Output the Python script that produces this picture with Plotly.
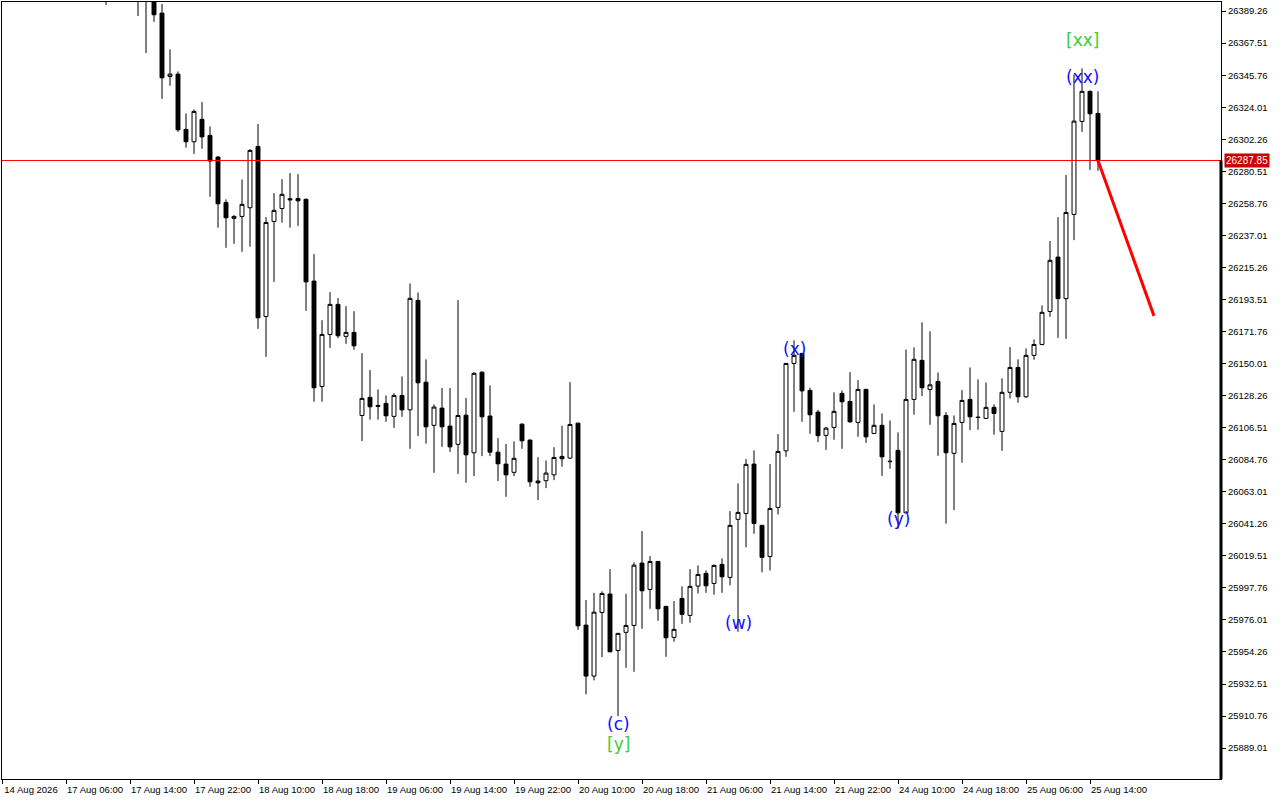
import plotly.graph_objects as go

# ---- data (bar index = hourly bar position from the left edge) ----
bar_idx = [13, 17, 18, 19] + list(range(20, 138))

open_ = [26410, 26415, 26412, 26400,
         26387.9, 26344.9, 26346.5, 26309.0, 26300.6, 26315.8, 26304.9, 26290.2, 26259.4, 26248.6,
         26249.9, 26255.8, 26297.4, 26182.0, 26246.5, 26255.3, 26261.9, 26262.1, 26261.5, 26206.0,
         26134.5, 26169.8, 26190.2, 26168.5, 26171.2, 26114.8, 26127.1, 26121.6, 26123.0, 26114.2,
         26128.4, 26118.6, 26192.9, 26137.4, 26108.1, 26119.8, 26107.6, 26095.2, 26115.0, 26089.5,
         26144.2, 26114.4, 26089.9, 26081.8, 26076.2, 26108.9, 26098.1, 26070.3, 26070.5, 26074.5,
         26087.0, 26085.9, 26109.6, 25972.5, 25937.9, 25981.1, 25993.6, 25955.3, 25967.6, 25972.3,
         26014.6, 25996.7, 26015.7, 25985.2, 25964.2, 25990.6, 25979.1, 25999.0, 26007.6, 26000.8,
         26013.7, 26004.9, 26044.3, 26048.3, 26081.8, 26040.2, 26019.1, 26052.4, 26090.8, 26150.1,
         26156.9, 26131.8, 26117.1, 26101.3, 26106.7, 26129.8, 26124.3, 26110.1, 26132.5, 26102.6,
         26108.1, 26083.8, 26091.1, 26048.7, 26125.7, 26152.2, 26132.5, 26137.9, 26114.8, 26089.1,
         26110.1, 26125.7, 26113.7, 26112.8, 26120.3, 26104.0, 26130.5, 26147.4, 26127.5, 26155.6,
         26163.0, 26185.4, 26222.3, 26194.1, 26251.3, 26314.4, 26334.8, 26319.8]

high = [26415, 26420, 26418, 26404,
        26394.2, 26363.3, 26348.3, 26319.8, 26322.5, 26327.5, 26311.0, 26290.8, 26261.5, 26250.8,
        26275.0, 26295.6, 26312.6, 26249.4, 26265.7, 26275.2, 26279.3, 26278.6, 26262.1, 26224.3,
        26179.5, 26198.5, 26194.5, 26189.0, 26185.6, 26157.1, 26145.6, 26132.5, 26128.4, 26129.8,
        26141.3, 26204.4, 26198.3, 26152.9, 26122.3, 26133.4, 26133.4, 26193.1, 26126.6, 26144.2,
        26144.7, 26135.2, 26099.4, 26095.4, 26097.2, 26109.5, 26098.6, 26086.5, 26084.3, 26093.3,
        26107.8, 26137.4, 26110.0, 25989.5, 25994.4, 25995.4, 26010.5, 25967.2, 25993.8, 26015.1,
        26036.3, 26019.3, 26016.2, 25985.6, 25988.8, 25998.8, 26010.5, 26013.0, 26009.6, 26013.7,
        26017.8, 26049.9, 26068.7, 26085.2, 26091.1, 26040.6, 26081.8, 26102.2, 26150.5, 26165.8,
        26157.3, 26133.6, 26118.6, 26107.1, 26130.5, 26131.8, 26144.2, 26138.8, 26132.9, 26122.3,
        26116.2, 26111.4, 26103.3, 26159.6, 26161.0, 26178.0, 26171.9, 26144.0, 26117.1, 26114.8,
        26132.0, 26147.4, 26139.3, 26137.2, 26122.3, 26140.0, 26161.2, 26152.9, 26160.3, 26166.4,
        26189.5, 26233.2, 26249.4, 26278.0, 26346.3, 26350.4, 26335.4, 26334.8]

low = [26393.5, 26385.9, 26360.8, 26382.0,
       26329.7, 26338.6, 26307.3, 26296.5, 26292.4, 26295.8, 26263.2, 26242.2, 26228.6, 26231.3,
       26225.9, 26229.3, 26173.6, 26154.6, 26205.5, 26245.6, 26242.2, 26243.5, 26185.8, 26124.1,
       26124.1, 26160.7, 26167.3, 26163.4, 26159.4, 26097.4, 26111.9, 26111.9, 26110.5, 26106.4,
       26113.9, 26092.2, 26100.8, 26095.6, 26075.9, 26093.5, 26090.1, 26075.2, 26069.1, 26073.6,
       26087.2, 26087.2, 26070.3, 26059.6, 26073.6, 26092.2, 26066.4, 26057.4, 26065.5, 26070.9,
       26080.0, 26085.4, 25969.3, 25925.5, 25935.0, 25950.8, 25954.0, 25910.7, 25943.5, 25940.8,
       25970.0, 25983.6, 25975.4, 25951.0, 25961.2, 25973.4, 25974.1, 25994.0, 25994.4, 25993.1,
       25994.4, 25999.5, 25968.0, 26025.3, 26034.5, 26008.3, 26009.6, 26047.6, 26086.7, 26117.3,
       26110.5, 26102.4, 26096.7, 26091.5, 26098.3, 26092.2, 26109.8, 26100.3, 26096.2, 26102.2,
       26073.8, 26078.6, 26038.1, 26048.3, 26115.3, 26127.9, 26108.5, 26087.4, 26041.3, 26050.6,
       26082.7, 26104.9, 26105.1, 26112.4, 26101.7, 26090.8, 26126.4, 26123.4, 26126.8, 26152.6,
       26162.4, 26181.8, 26167.5, 26166.8, 26233.8, 26307.3, 26281.5, 26280.9]

close = [26400, 26405, 26402, 26386.8,
         26344.0, 26346.5, 26308.7, 26300.6, 26321.2, 26303.9, 26287.5, 26258.5, 26249.0, 26249.9,
         26258.1, 26294.7, 26181.1, 26245.8, 26254.0, 26264.9, 26261.2, 26260.5, 26205.5, 26133.6,
         26169.8, 26190.2, 26168.9, 26171.2, 26162.1, 26126.4, 26120.7, 26121.0, 26114.6, 26128.4,
         26118.6, 26194.3, 26137.0, 26107.1, 26120.5, 26107.1, 26093.5, 26114.8, 26088.1, 26143.4,
         26113.9, 26089.9, 26082.0, 26074.5, 26085.7, 26097.6, 26069.8, 26069.1, 26075.7, 26086.3,
         26085.4, 26108.7, 25972.0, 25937.9, 25981.3, 25994.0, 25954.4, 25966.9, 25972.3, 26013.2,
         25995.8, 26015.7, 25983.6, 25963.9, 25969.6, 25979.8, 25998.8, 26006.9, 25999.2, 26013.0,
         26005.3, 26040.2, 26049.0, 26081.6, 26041.5, 26018.5, 26051.7, 26090.4, 26150.1, 26155.6,
         26131.5, 26115.3, 26101.1, 26106.2, 26117.6, 26124.1, 26110.5, 26132.5, 26100.3, 26108.1,
         26086.7, 26083.5, 26048.7, 26125.7, 26152.9, 26133.6, 26135.6, 26114.6, 26089.5, 26109.4,
         26125.0, 26113.9, 26113.4, 26120.3, 26116.2, 26130.5, 26147.4, 26127.5, 26155.6, 26163.0,
         26184.8, 26220.1, 26194.1, 26252.6, 26314.6, 26334.8, 26319.6, 26287.85]

last_price = 26287.85
forecast_x = [137, 144]
forecast_y = [26287.85, 26182.4]

tick_idx = [0, 8, 16, 24, 32, 40, 48, 56, 64, 72, 80, 88, 96, 104, 112, 120, 128, 136]
tick_text = ["14 Aug 2026", "17 Aug 06:00", "17 Aug 14:00", "17 Aug 22:00", "18 Aug 10:00",
             "18 Aug 18:00", "19 Aug 06:00", "19 Aug 14:00", "19 Aug 22:00", "20 Aug 10:00",
             "20 Aug 18:00", "21 Aug 06:00", "21 Aug 14:00", "21 Aug 22:00", "24 Aug 10:00",
             "24 Aug 18:00", "25 Aug 06:00", "25 Aug 14:00"]

price_ticks = [26389.26, 26367.51, 26345.76, 26324.01, 26302.26, 26280.51, 26258.76, 26237.01,
               26215.26, 26193.51, 26171.76, 26150.01, 26128.26, 26106.51, 26084.76, 26063.01,
               26041.26, 26019.51, 25997.76, 25976.01, 25954.26, 25932.51, 25910.76, 25889.01]

wave_text = ["(c)", "[y]", "(w)", "(x)", "(y)", "(xx)", "[xx]"]
wave_x = [77, 77, 92, 99, 112, 135, 135]
wave_y = [25905.3, 25891.7, 25973.9, 26159.8, 26044.4, 26344.5, 26369.6]
wave_color = ["#1010ff", "#3ccc3c", "#1010ff", "#1010ff", "#1010ff", "#1010ff", "#3ccc3c"]

y_range = [25868.05, 26395.45]
x_range = [0, 152.375]

# ---- figure ----
fig = go.Figure()
fig.add_trace(go.Candlestick(
    x=bar_idx, open=open_, high=high, low=low, close=close,
    increasing=dict(line=dict(color="black", width=1), fillcolor="white"),
    decreasing=dict(line=dict(color="black", width=1), fillcolor="black"),
    whiskerwidth=0, showlegend=False, hoverinfo="skip"))

fig.add_trace(go.Scatter(x=forecast_x, y=forecast_y, mode="lines",
                         line=dict(color="#ff0000", width=3), showlegend=False, hoverinfo="skip"))

fig.add_shape(type="line", xref="paper", x0=0, x1=1, yref="y", y0=last_price, y1=last_price,
              line=dict(color="#ff0000", width=1))
fig.add_shape(type="line", xref="paper", x0=1, x1=1, yref="y", y0=last_price, y1=y_range[0],
              line=dict(color="black", width=3))

for t, xx, yy, c in zip(wave_text, wave_x, wave_y, wave_color):
    fig.add_annotation(x=xx, y=yy, text=t, showarrow=False, xanchor="center", yanchor="middle",
                       font=dict(family="DejaVu Sans", size=17, color=c))

fig.add_annotation(xref="paper", x=1, xanchor="left", xshift=3, y=last_price, yref="y",
                   text=f"{last_price:.2f}", showarrow=False, bgcolor="#cc0000", borderpad=1,
                   font=dict(family="Liberation Sans", size=10, color="white"))

fig.update_layout(
    width=1280, height=800,
    margin=dict(l=2, r=59, t=2, b=21),
    paper_bgcolor="white", plot_bgcolor="white",
    font=dict(family="Liberation Sans", size=9.5, color="black"),
    showlegend=False,
)
fig.update_xaxes(range=x_range, tickmode="array", tickvals=tick_idx, ticktext=tick_text,
                 ticks="outside", ticklen=4, tickcolor="black", tickangle=0,
                 showline=True, mirror=True, linecolor="black", linewidth=1,
                 showgrid=False, zeroline=False, ticklabelshift=29, ticklabelstandoff=-2,
                 rangeslider=dict(visible=False), tickfont=dict(size=9.5))
fig.update_yaxes(range=y_range, side="right", tickmode="array", tickvals=price_ticks,
                 ticktext=[f"{v:.2f}" for v in price_ticks],
                 ticks="outside", ticklen=4, tickcolor="black",
                 showline=True, mirror=True, linecolor="black", linewidth=1,
                 showgrid=False, zeroline=False, tickfont=dict(size=9.5))

fig.write_html("out.html", config={"displayModeBar": False},
               post_script="document.body.style.margin='0';document.body.style.overflow='hidden';")
